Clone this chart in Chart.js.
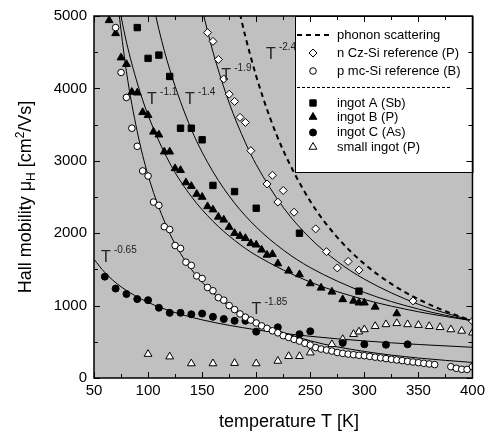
<!DOCTYPE html>
<html>
<head>
<meta charset="utf-8">
<script src="https://cdn.jsdelivr.net/npm/chart.js@4.4.0/dist/chart.umd.min.js"></script>
<style>
  body { margin: 0; background: #fff; }
  #wrap { width: 489px; height: 437px; }
</style>
</head>
<body>
<div id="wrap"><canvas id="plot-mobility" width="489" height="437"></canvas></div>
<script>
// axis ticks
const xTicks = [50, 100, 150, 200, 250, 300, 350, 400];
const yTicks = [0, 1000, 2000, 3000, 4000, 5000];

// measured points: temperature [K] / Hall mobility [cm2/Vs]
const tempCz = [155, 160, 165, 170, 175, 180, 185, 190, 195, 210, 215, 220, 225, 235, 255, 265, 275, 285, 295, 345, 400];
const muCz = [4770, 4650, 4400, 4130, 3920, 3820, 3600, 3530, 3140, 2680, 2800, 2430, 2590, 2290, 2060, 1745, 1520, 1610, 1490, 1065, 785];

const tempMc = [70, 75, 80, 85, 90, 95, 100, 105, 110, 115, 120, 125, 130, 135, 140, 145, 150, 155, 160, 165, 170, 175, 180, 185, 190, 195, 200,
  205, 210, 215, 220, 225, 230, 235, 240, 245, 250, 255, 260, 265, 270, 275, 280, 285, 290, 295, 300, 305, 310, 315, 320, 325, 330,
  335, 340, 345, 350, 355, 360, 365, 380, 385, 390, 395, 400];
const muMc = [4840, 4220, 3875, 3450, 3200, 2860, 2790, 2430, 2385, 2090, 2050, 1830, 1790, 1600, 1555, 1410, 1375, 1250, 1205, 1110, 1075, 1000, 945, 885, 840, 800, 760,
  720, 685, 652, 624, 585, 560, 533, 510, 480, 455, 420, 400, 386, 372, 352, 340, 330, 322, 314, 308, 298, 288, 278, 268, 258, 249,
  240, 230, 221, 212, 203, 194, 185, 156, 134, 120, 118, 156];

const tempA = [90, 100, 110, 120, 130, 140, 150, 160, 180, 200, 240, 295];
const muA = [4840, 4415, 4460, 4165, 3450, 3450, 3290, 2660, 2575, 2345, 2000, 1200];

const tempB = [64, 70, 75, 80, 85, 90, 95, 100, 105, 110, 115, 120, 125, 130, 135, 140, 145, 150, 155, 160, 165, 170, 175, 180, 185,
  190, 195, 200, 205, 210, 215, 220, 230, 240, 250, 260, 270, 280, 290, 295, 300, 310, 330];
const muB = [4940, 4760, 4425, 4335, 3950, 3940, 3670, 3630, 3400, 3360, 3125, 3125, 2895, 2870, 2700, 2650, 2540, 2500, 2370, 2325, 2225, 2185, 2085, 2000, 1960,
  1930, 1860, 1840, 1770, 1700, 1710, 1580, 1480, 1430, 1305, 1245, 1190, 1085, 1065, 1040, 1040, 982, 890];

const tempC = [60, 70, 80, 90, 100, 110, 120, 130, 140, 150, 160, 170, 180, 190, 200, 220, 240, 250, 280, 300, 320, 340];
const muC = [1400, 1235, 1160, 1090, 1075, 970, 900, 900, 880, 890, 845, 815, 790, 790, 640, 700, 605, 645, 485, 465, 460, 465];

const tempSmall = [100, 120, 140, 160, 180, 200, 220, 230, 240, 250, 270, 280, 290, 295, 300, 310, 320, 330, 340, 350, 360, 370, 380, 390, 400];
const muSmall = [330, 295, 200, 200, 205, 200, 235, 300, 300, 350, 465, 535, 605, 640, 670, 715, 740, 755, 740, 730, 715, 700, 670, 650, 625];

// fitted curves
const fitTemp065 = [50, 60, 75, 100, 125, 150, 200, 250, 300, 350, 400];
const fitMu065 = [1640, 1457, 1260, 1045, 904, 803, 666, 576, 512, 463, 424];
const fitTemp185 = [70, 80, 90, 100, 120, 140, 160, 180, 200, 250, 300, 350, 400];
const fitMu185 = [5417, 4231, 3403, 2800, 1998, 1502, 1174, 944, 777, 514, 367, 276, 215];
const fitTemp11 = [70, 80, 90, 100, 120, 140, 160, 180, 200, 250, 300, 350, 400];
const fitMu11 = [5374, 4640, 4076, 3630, 2970, 2507, 2165, 1901, 1693, 1325, 1084, 915, 790];
const fitTemp14 = [100, 110, 120, 140, 160, 180, 200, 225, 250, 300, 350, 400];
const fitMu14 = [5502, 4815, 4263, 3435, 2850, 2416, 2085, 1768, 1525, 1182, 952, 790];
const fitTemp19 = [150, 160, 175, 190, 200, 225, 250, 275, 300, 350, 400];
const fitMu19 = [5093, 4505, 3800, 3250, 2948, 2357, 1929, 1610, 1365, 1018, 790];
const phononTemp = [185, 190, 200, 212.5, 225, 250, 275, 300, 325, 350, 375, 400];
const phononMu = [5028, 4715, 4170, 3605, 3143, 2441, 1942, 1576, 1300, 1088, 922, 790];

// T^n labels: anchor temperature, mobility, exponent text
const expTemp = [56.4, 195.7, 99.1, 134.2, 167.7, 209];
const expMu = [1602, 882, 3784, 3784, 4114, 4404];
const expText = ['-0.65', '-1.85', '-1.1', '-1.4', '-1.9', '-2.4'];

const FONT = '"Liberation Sans", Arial, sans-serif';

function pts(xs, ys) {
  return xs.map((x, i) => ({ x: x, y: ys[i] }));
}

function markerSet(label, xs, ys, style, fill, r) {
  return {
    label: label,
    data: pts(xs, ys),
    showLine: false,
    pointStyle: style,
    pointRadius: r,
    pointBackgroundColor: fill,
    pointBorderColor: '#000',
    pointBorderWidth: 1,
  };
}

function curveSet(label, xs, ys, dash, width) {
  return {
    label: label,
    data: pts(xs, ys),
    showLine: true,
    borderColor: '#000',
    borderWidth: width,
    borderDash: dash,
    pointRadius: 0,
    fill: false,
    cubicInterpolationMode: 'monotone',
  };
}

const datasets = [
  markerSet('n Cz-Si reference (P)', tempCz, muCz, 'rectRot', '#fff', 4),
  markerSet('p mc-Si reference (B)', tempMc, muMc, 'circle', '#fff', 3.3),
  markerSet('ingot A (Sb)', tempA, muA, 'rect', '#000', 4.5),
  markerSet('ingot B (P)', tempB, muB, 'triangle', '#000', 4.5),
  markerSet('ingot C (As)', tempC, muC, 'circle', '#000', 3.5),
  markerSet('small ingot (P)', tempSmall, muSmall, 'triangle', '#fff', 4.5),
  curveSet('fit -0.65', fitTemp065, fitMu065, [], 1),
  curveSet('fit -1.85', fitTemp185, fitMu185, [], 1),
  curveSet('fit -1.1', fitTemp11, fitMu11, [], 1),
  curveSet('fit -1.4', fitTemp14, fitMu14, [], 1),
  curveSet('fit -1.9', fitTemp19, fitMu19, [], 1),
  curveSet('phonon scattering', phononTemp, phononMu, [5, 4], 2),
];

function drawMarker(ctx, ds, x, y) {
  ctx.save();
  ctx.fillStyle = ds.pointBackgroundColor;
  ctx.strokeStyle = ds.pointBorderColor;
  ctx.lineWidth = 1;
  Chart.helpers.drawPoint(ctx, { pointStyle: ds.pointStyle, radius: ds.pointRadius, borderWidth: 1, rotation: 0 }, x, y);
  ctx.restore();
}

const decor = {
  id: 'decor',
  beforeDraw(chart) {
    const { ctx, chartArea: a } = chart;
    ctx.save();
    ctx.fillStyle = '#c0c0c0';
    ctx.fillRect(a.left, a.top, a.right - a.left, a.bottom - a.top);
    ctx.restore();
  },
  afterDatasetsDraw(chart) {
    const { ctx, chartArea: a, scales } = chart;
    const xs = scales.x, ys = scales.y;
    ctx.save();

    // legend box
    const lx = 295, ly = a.top, lw = a.right - 295, lh = 156;
    ctx.fillStyle = '#fff';
    ctx.fillRect(lx, ly, lw, lh);
    ctx.strokeStyle = '#000';
    ctx.lineWidth = 1;
    ctx.strokeRect(lx + 0.5, ly + 0.5, lw, lh);

    const phonon = datasets[11];
    ctx.setLineDash(phonon.borderDash);
    ctx.lineWidth = 2;
    ctx.beginPath();
    ctx.moveTo(297, 35);
    ctx.lineTo(329, 35);
    ctx.stroke();
    ctx.setLineDash([3, 2]);
    ctx.lineWidth = 1;
    ctx.beginPath();
    ctx.moveTo(297, 87.5);
    ctx.lineTo(450, 87.5);
    ctx.stroke();
    ctx.setLineDash([]);

    const rows = [[phonon, 35], [datasets[0], 53], [datasets[1], 71], [datasets[2], 103], [datasets[3], 117], [datasets[4], 132.5], [datasets[5], 147]];
    ctx.font = '13px ' + FONT;
    ctx.textBaseline = 'middle';
    rows.forEach(([ds, y], i) => {
      if (i > 0) drawMarker(ctx, ds, 313, y);
      ctx.fillStyle = '#000';
      ctx.fillText(ds.label, 337, y);
    });

    // exponent labels
    ctx.fillStyle = '#222';
    ctx.textBaseline = 'alphabetic';
    ctx.textAlign = 'left';
    for (let i = 0; i < expText.length; i++) {
      const px = xs.getPixelForValue(expTemp[i]);
      const py = ys.getPixelForValue(expMu[i]);
      ctx.font = '16px ' + FONT;
      ctx.fillText('T', px, py);
      ctx.font = '10px ' + FONT;
      ctx.fillText(expText[i], px + 13, py - 9.5);
    }

    // frame and inward ticks
    ctx.strokeStyle = '#000';
    ctx.lineWidth = 1.5;
    ctx.strokeRect(a.left, a.top, a.right - a.left, a.bottom - a.top);
    ctx.lineWidth = 1;
    ctx.beginPath();
    for (let i = 0; i < xTicks.length; i++) {
      const p = Math.round(xs.getPixelForValue(xTicks[i])) + 0.5;
      ctx.moveTo(p, a.bottom); ctx.lineTo(p, a.bottom - 6);
      ctx.moveTo(p, a.top); ctx.lineTo(p, a.top + 6);
      if (i < xTicks.length - 1) {
        const m = Math.round(xs.getPixelForValue((xTicks[i] + xTicks[i + 1]) / 2)) + 0.5;
        ctx.moveTo(m, a.bottom); ctx.lineTo(m, a.bottom - 4);
        ctx.moveTo(m, a.top); ctx.lineTo(m, a.top + 4);
      }
    }
    for (let i = 0; i < yTicks.length; i++) {
      const p = Math.round(ys.getPixelForValue(yTicks[i])) + 0.5;
      ctx.moveTo(a.left, p); ctx.lineTo(a.left + 6, p);
      ctx.moveTo(a.right, p); ctx.lineTo(a.right - 6, p);
      if (i < yTicks.length - 1) {
        const m = Math.round(ys.getPixelForValue((yTicks[i] + yTicks[i + 1]) / 2)) + 0.5;
        ctx.moveTo(a.left, m); ctx.lineTo(a.left + 4, m);
        ctx.moveTo(a.right, m); ctx.lineTo(a.right - 4, m);
      }
    }
    ctx.stroke();
    ctx.restore();
  },
  afterDraw(chart) {
    const ctx = chart.ctx;
    const a = chart.chartArea;
    ctx.save();
    ctx.fillStyle = '#000';
    ctx.textBaseline = 'alphabetic';
    ctx.textAlign = 'center';
    ctx.font = '18px ' + FONT;
    ctx.fillText('temperature T [K]', 289, 427);

    // rotated y title with sub/superscript
    const parts = [['Hall mobility \u03bc', 18, 0], ['H', 12, 4], [' [cm', 18, 0], ['2', 12, -7], ['/Vs]', 18, 0]];
    ctx.textAlign = 'left';
    let total = 0;
    parts.forEach(p => { ctx.font = p[1] + 'px ' + FONT; total += ctx.measureText(p[0]).width; });
    ctx.translate(31, (a.top + a.bottom) / 2);
    ctx.rotate(-Math.PI / 2);
    let x = -total / 2;
    parts.forEach(p => {
      ctx.font = p[1] + 'px ' + FONT;
      ctx.fillText(p[0], x, p[2]);
      x += ctx.measureText(p[0]).width;
    });
    ctx.restore();
  }
};

const ctx = document.getElementById('plot-mobility').getContext('2d');
const chart = new Chart(ctx, {
  type: 'scatter',
  data: { datasets: datasets },
  options: {
    responsive: false,
    animation: false,
    devicePixelRatio: 1,
    layout: { padding: { top: 15, right: 13, left: 0, bottom: 0 } },
    plugins: { legend: { display: false }, tooltip: { enabled: false } },
    scales: {
      x: {
        type: 'linear',
        min: 50,
        max: 400,
        afterBuildTicks: s => { s.ticks = xTicks.map(v => ({ value: v })); },
        afterFit: s => { s.height = 59; },
        grid: { display: false, drawTicks: false },
        border: { display: false },
        ticks: { color: '#000', font: { family: FONT, size: 15 }, padding: 4, maxRotation: 0, autoSkip: false, callback: v => String(v) },
      },
      y: {
        type: 'linear',
        min: 0,
        max: 5000,
        afterBuildTicks: s => { s.ticks = yTicks.map(v => ({ value: v })); },
        afterFit: s => { s.width = 94; },
        grid: { display: false, drawTicks: false },
        border: { display: false },
        ticks: { color: '#000', font: { family: FONT, size: 15 }, padding: 7, callback: v => String(v) },
      }
    }
  },
  plugins: [decor]
});
</script>
</body>
</html>
